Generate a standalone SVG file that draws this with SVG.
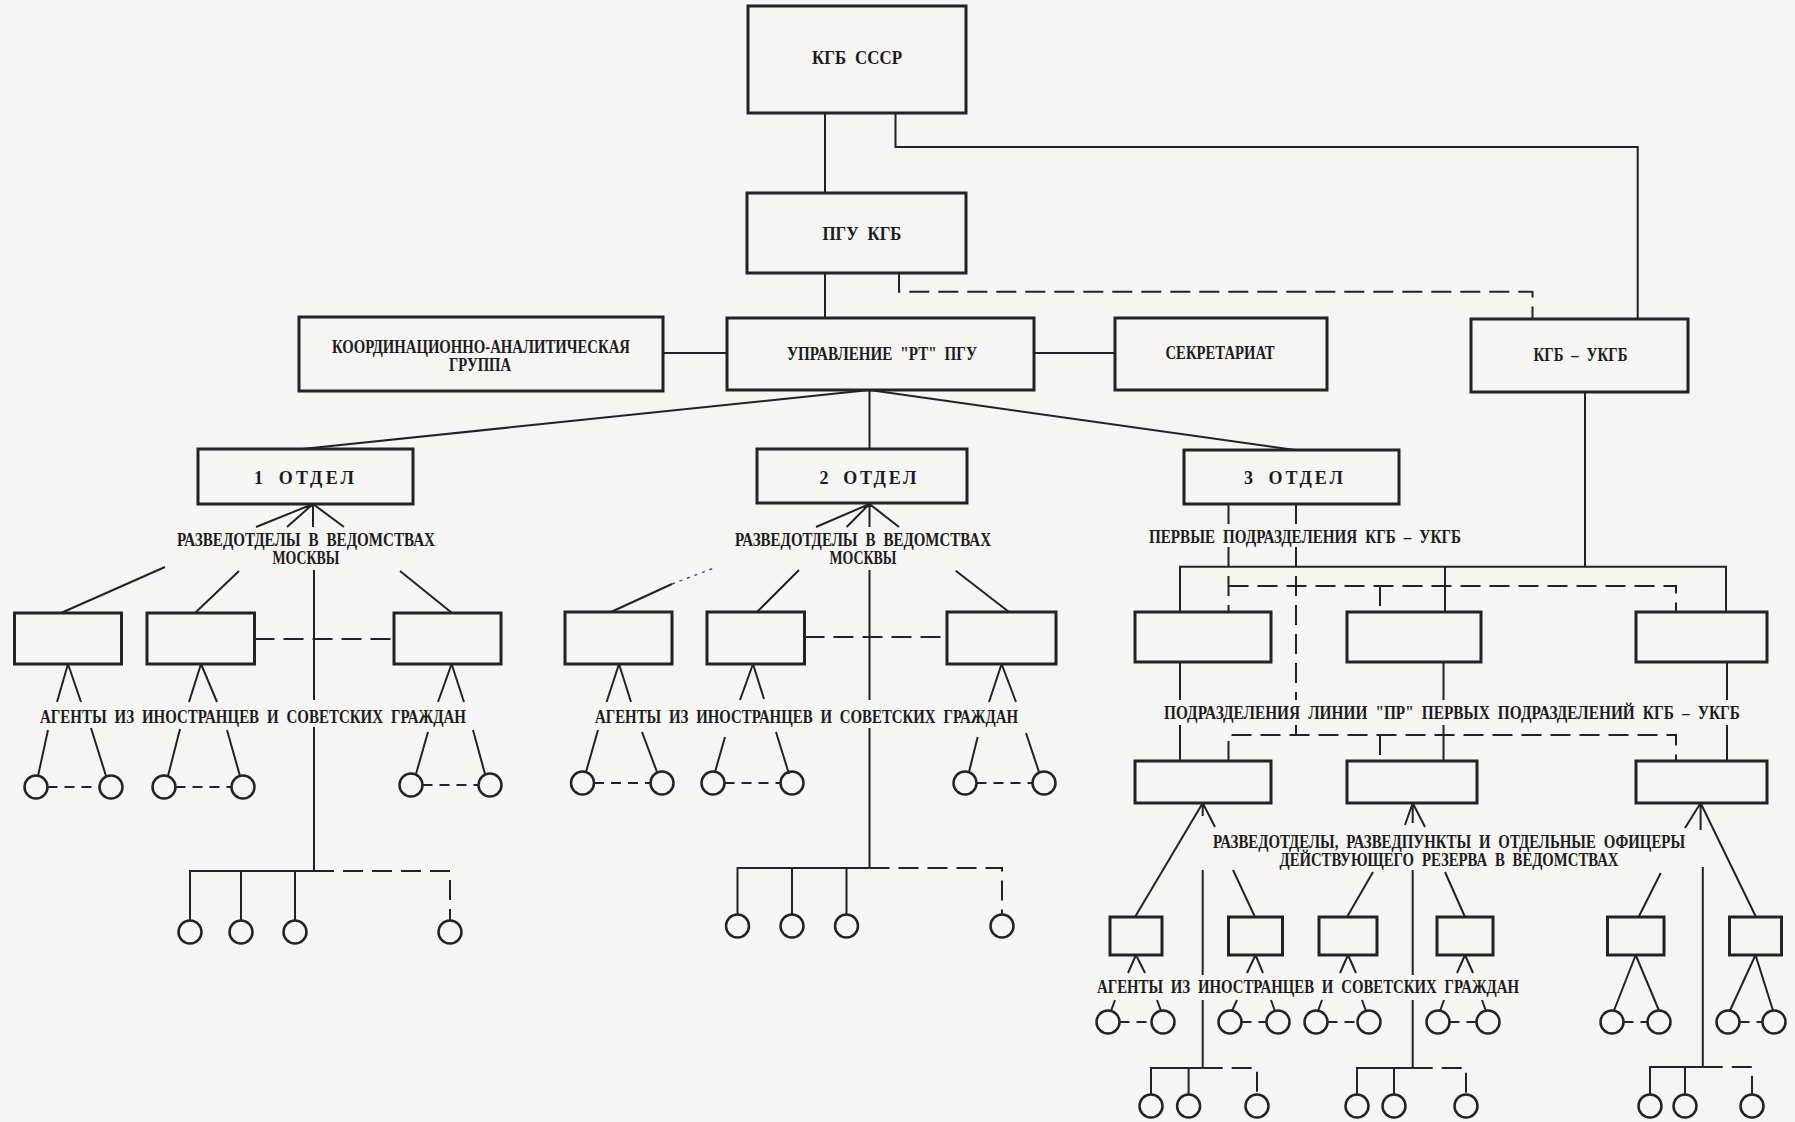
<svg xmlns="http://www.w3.org/2000/svg" width="1795" height="1122" viewBox="0 0 1795 1122">
<style>
.bg{fill:#f5f5f3}
.box{fill:none;stroke:#232323;stroke-width:3}
.ln{fill:none;stroke:#232323;stroke-width:2}
.ds{fill:none;stroke:#232323;stroke-width:2;stroke-dasharray:20 9}
.dsS{fill:none;stroke:#232323;stroke-width:2;stroke-dasharray:10 7}
.dot{fill:none;stroke:#555;stroke-width:1.5;stroke-dasharray:3 5}
.c{fill:none;stroke:#232323;stroke-width:2.5}
.t{font-family:"Liberation Serif","DejaVu Serif",serif;font-weight:bold;font-size:18px;word-spacing:5px;fill:#1c1c1c;text-anchor:middle}
</style>
<rect class="bg" x="0" y="0" width="1795" height="1122"/>

<g id="connectors">
<path class="ln" d="M825 113V193"/>
<path class="ln" d="M895.5 113V147H1637.7V319"/>
<path class="ds" d="M899 273V291.7H1532.5V319"/>
<path class="ln" d="M825 273V318"/>
<path class="ln" d="M663 353H727"/>
<path class="ln" d="M1034 353H1115"/>
<path class="ln" d="M869.5 390L302 449M869.5 390V449M869.5 390L1295 450"/>
<path class="ln" d="M313 504L256 527M313 504L287 527M313 504V527M313 504L344 527"/>
<path class="ln" d="M165 567L61 613M239 571L195 613M400 571L452 613"/>
<path class="ln" d="M314 570V700M314 727V871"/>
<path class="ds" d="M254.5 639H394"/>
<path class="ln" d="M68 664L57 702M68 664L81 702M48 730L38 776M91 728L106 776"/>
<path class="dsS" d="M47.5 787H99.5"/>
<path class="ln" d="M201 664L189 702M201 664L217 702M180 729L168 776M227 730L240 776"/>
<path class="dsS" d="M175.5 787H231.5"/>
<path class="ln" d="M451.6 664L438 702M451.6 664L464 702M428 732L416 774M473 730L485 774"/>
<path class="dsS" d="M422.5 785H478.5"/>
<path class="ln" d="M190 920.5V871H314M241 871V920.5M295 871V920.5"/>
<path class="ds" d="M314 871H450V920.5"/>
<path class="ln" d="M869.5 504L816 527M869.5 504L846.6 527M869.5 504V527M869.5 504L899 527"/>
<path class="ln" d="M611 612L672 584M799 570L757 612M955.7 570.7L1009 612"/>
<path class="dot" d="M672 584L714 568"/>
<path class="ln" d="M869.5 570V700M869.5 728V868"/>
<path class="ds" d="M804.5 637H947"/>
<path class="ln" d="M619 664L606.6 702M619 664L631 702M598 730L586 772M642 732L657 772"/>
<path class="dsS" d="M594 783H650.5"/>
<path class="ln" d="M753 664L740 700M753 664L764 699M725 737L715 772M776 732L789 774"/>
<path class="dsS" d="M724.5 783H780.5"/>
<path class="ln" d="M1001.6 664L989 702M1001.6 664L1016 702M977.7 737L969 772M1026 733L1039 772"/>
<path class="dsS" d="M976.5 783H1032.5"/>
<path class="ln" d="M737.5 914.5V868H869.5M792 868V914.5M846.5 868V914.5"/>
<path class="ds" d="M869.5 868H1002V914.5"/>
<path class="ln" d="M1585 392V566.7M1180 612V566.7H1726V612M1445 566.7V612"/>
<path class="ds" d="M1228.5 504V527M1228.5 547V612M1296 504V527M1296 547V700M1296 725V735"/>
<path class="ds" d="M1228.5 586H1676V612M1380 586V612"/>
<path class="ln" d="M1180 662V700M1180 725V761M1443.5 662V700M1443.5 725V761M1727 662V700M1727 725V761"/>
<path class="ds" d="M1228.5 761V735H1676V761M1380 735V761"/>
<path class="ln" d="M1202.7 803L1135 917M1202.7 803V816M1202.7 803L1215 827M1233 870L1255 917M1202.7 870V975M1202.7 1000V1068"/>
<path class="ln" d="M1412.7 803L1405 825M1412.7 803V823M1412.7 803L1425 827M1373 872L1347 917M1445 872L1465 917M1412.7 870V975M1412.7 1000V1068"/>
<path class="ln" d="M1700.6 803L1685 828M1700.6 803V830M1700.6 803L1756 917M1660.7 873L1638.6 917M1702.8 867V1067"/>
<path class="ln" d="M1136 955L1128 973M1136 955L1145 973M1115 1000L1111 1011M1157 1000L1161 1011"/>
<path class="dsS" d="M1119.5 1022H1151.5"/>
<path class="ln" d="M1255.5 955L1247 973M1255.5 955L1263 973M1237 1000L1232 1011M1271 1000L1275 1011"/>
<path class="dsS" d="M1241.5 1022H1266.5"/>
<path class="ln" d="M1348 955L1340 973M1348 955L1356 973M1322 1000L1318 1011M1362 1000L1366 1011"/>
<path class="dsS" d="M1327.5 1022H1357.5"/>
<path class="ln" d="M1465 955L1457 973M1465 955L1473 973M1444 1000L1440 1011M1482 1000L1486 1011"/>
<path class="dsS" d="M1449.5 1022H1476.5"/>
<path class="ln" d="M1635.7 955L1614 1010.5M1635.7 955L1659 1010.5"/>
<path class="dsS" d="M1623.5 1022H1647.5"/>
<path class="ln" d="M1755.5 955L1730 1010.5M1755.5 955L1773 1010.5"/>
<path class="dsS" d="M1739.5 1022H1762.5"/>
<path class="ln" d="M1151 1094.5V1068H1202.7M1188.6 1068V1094.5"/>
<path class="ds" d="M1202.7 1068H1257V1094.5"/>
<path class="ln" d="M1357 1094.5V1068H1412.7M1394 1068V1094.5"/>
<path class="ds" d="M1412.7 1068H1466V1094.5"/>
<path class="ln" d="M1650 1094.5V1067H1702.8M1685 1067V1094.5"/>
<path class="ds" d="M1702.8 1067H1752V1094.5"/>
</g>

<g id="labels">
<text class="t" x="306" y="546" textLength="258" lengthAdjust="spacingAndGlyphs">РАЗВЕДОТДЕЛЫ В ВЕДОМСТВАХ</text>
<text class="t" x="306" y="564" textLength="67" lengthAdjust="spacingAndGlyphs">МОСКВЫ</text>
<text class="t" x="863" y="546" textLength="256" lengthAdjust="spacingAndGlyphs">РАЗВЕДОТДЕЛЫ В ВЕДОМСТВАХ</text>
<text class="t" x="863" y="564" textLength="67" lengthAdjust="spacingAndGlyphs">МОСКВЫ</text>
<text class="t" x="253" y="723" textLength="426" lengthAdjust="spacingAndGlyphs">АГЕНТЫ ИЗ ИНОСТРАНЦЕВ И СОВЕТСКИХ ГРАЖДАН</text>
<text class="t" x="806.5" y="723" textLength="423" lengthAdjust="spacingAndGlyphs">АГЕНТЫ ИЗ ИНОСТРАНЦЕВ И СОВЕТСКИХ ГРАЖДАН</text>
<text class="t" x="1305" y="543" textLength="312" lengthAdjust="spacingAndGlyphs">ПЕРВЫЕ ПОДРАЗДЕЛЕНИЯ КГБ – УКГБ</text>
<text class="t" x="1452" y="719" textLength="576" lengthAdjust="spacingAndGlyphs">ПОДРАЗДЕЛЕНИЯ ЛИНИИ "ПР" ПЕРВЫХ ПОДРАЗДЕЛЕНИЙ КГБ – УКГБ</text>
<text class="t" x="1449" y="848" textLength="472" lengthAdjust="spacingAndGlyphs">РАЗВЕДОТДЕЛЫ, РАЗВЕДПУНКТЫ И ОТДЕЛЬНЫЕ ОФИЦЕРЫ</text>
<text class="t" x="1449" y="866" textLength="339" lengthAdjust="spacingAndGlyphs">ДЕЙСТВУЮЩЕГО РЕЗЕРВА В ВЕДОМСТВАХ</text>
<text class="t" x="1308" y="993" textLength="422" lengthAdjust="spacingAndGlyphs">АГЕНТЫ ИЗ ИНОСТРАНЦЕВ И СОВЕТСКИХ ГРАЖДАН</text>
</g>

<g id="n-kgb-sssr"><rect class="box" x="748" y="6" width="218" height="107"/><text class="t" x="857" y="64" textLength="90" lengthAdjust="spacingAndGlyphs">КГБ СССР</text></g>
<g id="n-pgu"><rect class="box" x="747" y="193" width="219" height="80"/><text class="t" x="862" y="240" textLength="79" lengthAdjust="spacingAndGlyphs">ПГУ КГБ</text></g>
<g id="n-koord"><rect class="box" x="299" y="317" width="364" height="74"/><text class="t" x="481" y="353" textLength="298" lengthAdjust="spacingAndGlyphs">КООРДИНАЦИОННО-АНАЛИТИЧЕСКАЯ</text><text class="t" x="480" y="371" textLength="62" lengthAdjust="spacingAndGlyphs">ГРУППА</text></g>
<g id="n-upr"><rect class="box" x="727" y="318" width="307" height="72"/><text class="t" x="882" y="360" textLength="190" lengthAdjust="spacingAndGlyphs">УПРАВЛЕНИЕ "РТ" ПГУ</text></g>
<g id="n-sekr"><rect class="box" x="1115" y="318" width="212" height="72"/><text class="t" x="1220" y="359" textLength="109" lengthAdjust="spacingAndGlyphs">СЕКРЕТАРИАТ</text></g>
<g id="n-kgb-ukgb"><rect class="box" x="1471" y="319" width="217" height="73"/><text class="t" x="1580.5" y="361" textLength="94" lengthAdjust="spacingAndGlyphs">КГБ – УКГБ</text></g>
<g id="n-otdel1"><rect class="box" x="198" y="449" width="215" height="55"/><text class="t" x="304" y="484" textLength="100" lengthAdjust="spacing">1 ОТДЕЛ</text></g>
<g id="n-otdel2"><rect class="box" x="757" y="449" width="210" height="54"/><text class="t" x="868" y="484" textLength="97" lengthAdjust="spacing">2 ОТДЕЛ</text></g>
<g id="n-otdel3"><rect class="box" x="1184" y="450" width="215" height="54"/><text class="t" x="1293.5" y="484" textLength="99" lengthAdjust="spacing">3 ОТДЕЛ</text></g>

<g id="n-o1-b1"><rect class="box" x="14.5" y="613" width="107" height="51"/></g>
<g id="n-o1-b2"><rect class="box" x="147" y="613" width="107.5" height="51"/></g>
<g id="n-o1-b3"><rect class="box" x="394" y="613" width="107" height="51"/></g>
<g id="n-o2-b1"><rect class="box" x="565" y="612" width="107" height="52"/></g>
<g id="n-o2-b2"><rect class="box" x="707" y="612" width="97.5" height="52"/></g>
<g id="n-o2-b3"><rect class="box" x="947" y="612" width="109" height="52"/></g>
<g id="n-o3-a1"><rect class="box" x="1135" y="612" width="136" height="50"/></g>
<g id="n-o3-a2"><rect class="box" x="1347" y="612" width="134" height="50"/></g>
<g id="n-o3-a3"><rect class="box" x="1636" y="612" width="131" height="50"/></g>
<g id="n-o3-b1"><rect class="box" x="1135" y="761" width="136" height="42"/></g>
<g id="n-o3-b2"><rect class="box" x="1347" y="761" width="130" height="42"/></g>
<g id="n-o3-b3"><rect class="box" x="1636" y="761" width="131" height="42"/></g>
<g id="n-o3-c1"><rect class="box" x="1110" y="917" width="52" height="38"/></g>
<g id="n-o3-c2"><rect class="box" x="1228.5" y="917" width="54" height="38"/></g>
<g id="n-o3-c3"><rect class="box" x="1319" y="917" width="58" height="38"/></g>
<g id="n-o3-c4"><rect class="box" x="1437" y="917" width="56" height="38"/></g>
<g id="n-o3-c5"><rect class="box" x="1607.5" y="917" width="56.5" height="38"/></g>
<g id="n-o3-c6"><rect class="box" x="1729.5" y="917" width="52" height="38"/></g>

<g id="n-ag1-1"><circle class="c" cx="36" cy="787" r="11.5"/></g>
<g id="n-ag1-2"><circle class="c" cx="111" cy="787" r="11.5"/></g>
<g id="n-ag1-3"><circle class="c" cx="164" cy="787" r="11.5"/></g>
<g id="n-ag1-4"><circle class="c" cx="243" cy="787" r="11.5"/></g>
<g id="n-ag1-5"><circle class="c" cx="411" cy="785" r="11.5"/></g>
<g id="n-ag1-6"><circle class="c" cx="490" cy="785" r="11.5"/></g>
<g id="n-of1-1"><circle class="c" cx="190" cy="932" r="11.5"/></g>
<g id="n-of1-2"><circle class="c" cx="241" cy="932" r="11.5"/></g>
<g id="n-of1-3"><circle class="c" cx="295" cy="932" r="11.5"/></g>
<g id="n-of1-4"><circle class="c" cx="450" cy="932" r="11.5"/></g>
<g id="n-ag2-1"><circle class="c" cx="582.5" cy="783" r="11.5"/></g>
<g id="n-ag2-2"><circle class="c" cx="662" cy="783" r="11.5"/></g>
<g id="n-ag2-3"><circle class="c" cx="713" cy="783" r="11.5"/></g>
<g id="n-ag2-4"><circle class="c" cx="792" cy="783" r="11.5"/></g>
<g id="n-ag2-5"><circle class="c" cx="965" cy="783" r="11.5"/></g>
<g id="n-ag2-6"><circle class="c" cx="1044" cy="783" r="11.5"/></g>
<g id="n-of2-1"><circle class="c" cx="737.5" cy="926" r="11.5"/></g>
<g id="n-of2-2"><circle class="c" cx="792" cy="926" r="11.5"/></g>
<g id="n-of2-3"><circle class="c" cx="846.5" cy="926" r="11.5"/></g>
<g id="n-of2-4"><circle class="c" cx="1002" cy="926" r="11.5"/></g>
<g id="n-ag3-1"><circle class="c" cx="1108" cy="1022" r="11.5"/></g>
<g id="n-ag3-2"><circle class="c" cx="1163" cy="1022" r="11.5"/></g>
<g id="n-ag3-3"><circle class="c" cx="1230" cy="1022" r="11.5"/></g>
<g id="n-ag3-4"><circle class="c" cx="1278" cy="1022" r="11.5"/></g>
<g id="n-ag3-5"><circle class="c" cx="1316" cy="1022" r="11.5"/></g>
<g id="n-ag3-6"><circle class="c" cx="1369" cy="1022" r="11.5"/></g>
<g id="n-ag3-7"><circle class="c" cx="1438" cy="1022" r="11.5"/></g>
<g id="n-ag3-8"><circle class="c" cx="1488" cy="1022" r="11.5"/></g>
<g id="n-ag3-9"><circle class="c" cx="1612" cy="1022" r="11.5"/></g>
<g id="n-ag3-10"><circle class="c" cx="1659" cy="1022" r="11.5"/></g>
<g id="n-ag3-11"><circle class="c" cx="1728" cy="1022" r="11.5"/></g>
<g id="n-ag3-12"><circle class="c" cx="1774" cy="1022" r="11.5"/></g>
<g id="n-of3-1"><circle class="c" cx="1151" cy="1106" r="11.5"/></g>
<g id="n-of3-2"><circle class="c" cx="1188.6" cy="1106" r="11.5"/></g>
<g id="n-of3-3"><circle class="c" cx="1257" cy="1106" r="11.5"/></g>
<g id="n-of3-4"><circle class="c" cx="1357" cy="1106" r="11.5"/></g>
<g id="n-of3-5"><circle class="c" cx="1394" cy="1106" r="11.5"/></g>
<g id="n-of3-6"><circle class="c" cx="1466" cy="1106" r="11.5"/></g>
<g id="n-of3-7"><circle class="c" cx="1650" cy="1106" r="11.5"/></g>
<g id="n-of3-8"><circle class="c" cx="1685" cy="1106" r="11.5"/></g>
<g id="n-of3-9"><circle class="c" cx="1752" cy="1106" r="11.5"/></g>
</svg>
